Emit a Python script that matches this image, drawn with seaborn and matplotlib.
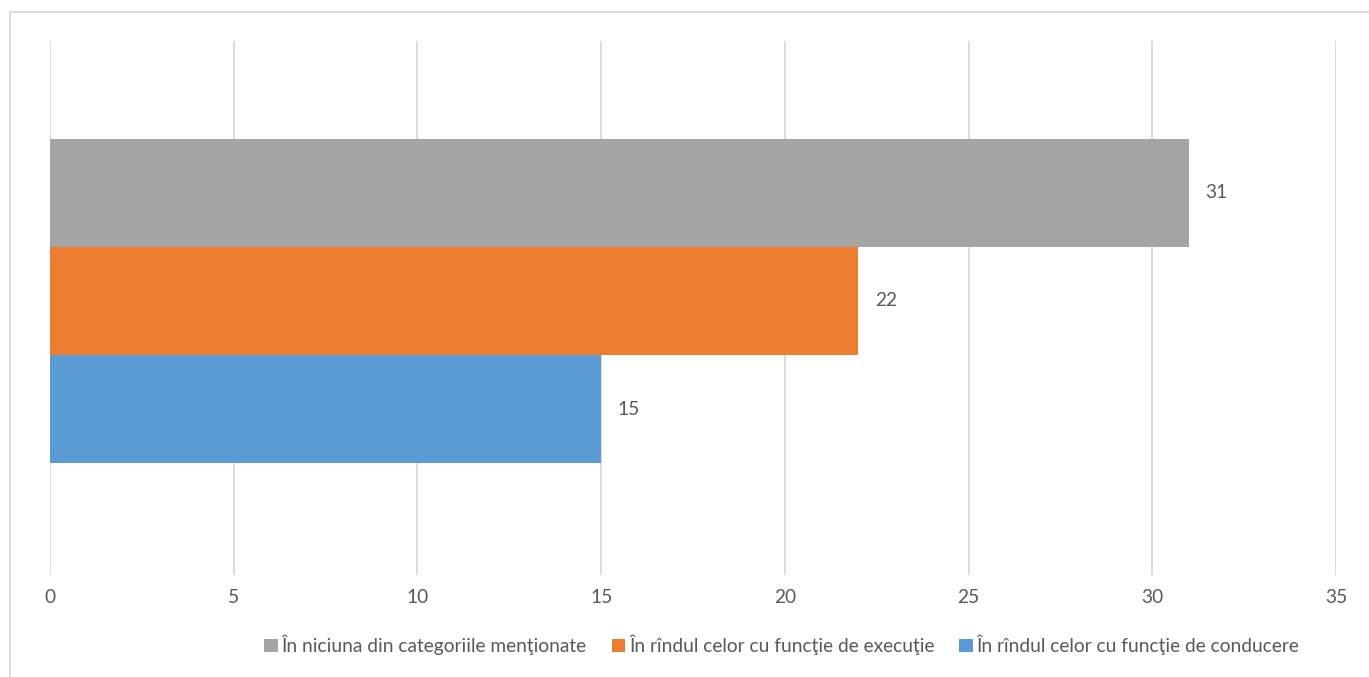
import pandas as pd
import seaborn as sns
import matplotlib.pyplot as plt
from matplotlib.patches import Rectangle

# data
category = ["Total"]
series = ["În niciuna din categoriile menţionate",
          "În rîndul celor cu funcţie de execuţie",
          "În rîndul celor cu funcţie de conducere"]
values = [31, 22, 15]
colors = ["#A5A5A5", "#ED7D31", "#5B9BD5"]
xticks = [0, 5, 10, 15, 20, 25, 30, 35]

df = pd.DataFrame({"cat": category * len(series), "series": series, "value": values})

sns.set_style("white")
plt.rcParams['font.family'] = ['Lato', 'DejaVu Sans']
text_color = "#595959"
fs = 13.8

fig = plt.figure(figsize=(13.69, 6.77), dpi=100)
ax = fig.add_axes([50 / 1369, 102 / 677, 1286 / 1369, 534 / 677])

sns.barplot(data=df, x="value", y="cat", hue="series", hue_order=series,
            palette=colors, orient="h", width=0.6, saturation=1,
            linewidth=0, ax=ax)

for c in ax.containers:
    ax.bar_label(c, padding=12, fontsize=fs, color=text_color)

ax.set_xlim(0, 35)
ax.set_ylim(0.507, -0.481)
ax.set_xticks(xticks)
ax.set_yticks([])
ax.set_xlabel("")
ax.set_ylabel("")
ax.grid(axis="x", color="#D9D9D9", linewidth=1.3)
ax.set_axisbelow(True)
ax.tick_params(axis="x", length=0, pad=10, labelsize=fs, labelcolor=text_color)
for s in ax.spines.values():
    s.set_visible(False)

sns.move_legend(ax, "center", bbox_to_anchor=(782 / 1369, 32 / 677),
                bbox_transform=fig.transFigure, ncol=3, frameon=False, title=None,
                fontsize=fs, handlelength=0.7, handleheight=0.7,
                handletextpad=0.2, columnspacing=1.3, labelcolor=text_color)

# chart border (partly cut off on the right and bottom)
fig.patches.append(Rectangle((10 / 1369, -0.1), 1.2, (665 / 677) + 0.1,
                             transform=fig.transFigure, fill=False,
                             edgecolor="#D9D9D9", linewidth=1.3))

fig.savefig("out.png", dpi=100)
